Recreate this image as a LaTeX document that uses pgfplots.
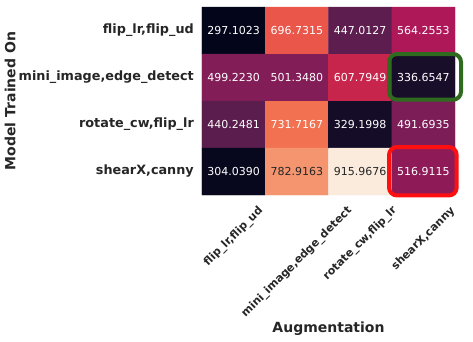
\documentclass[border=0pt]{standalone}
\usepackage{fontspec}
\setmainfont{DejaVu Sans}
\usepackage{graphicx}
\usepackage{pgfplots}
\usepackage{pgfplotstable}
\pgfplotsset{compat=1.18}

\definecolor{boxgreen}{RGB}{46,107,31}
\definecolor{boxred}{RGB}{255,16,16}
\definecolor{annotdark}{RGB}{38,38,38}

% x = augmentation (column), y = model trained on (row)
\pgfplotstableread{
x y v
0 0 297.1023
1 0 696.7315
2 0 447.0127
3 0 564.2553
0 1 499.2230
1 1 501.3480
2 1 607.7949
3 1 336.6547
0 2 440.2481
1 2 731.7167
2 2 329.1998
3 2 491.6935
0 3 304.0390
1 3 782.9163
2 3 915.9676
3 3 516.9115
}\heat

\begin{document}
\begin{tikzpicture}
\useasboundingbox (-202pt,-147pt) rectangle (271pt,195pt);
\begin{axis}[
  scale only axis,
  width=253pt, height=188pt,
  xmin=-0.5, xmax=3.5, ymin=-0.5, ymax=3.5,
  y dir=reverse,
  axis line style={draw=none},
  major tick length=0pt,
  clip=false,
  xtick={0,1,2,3}, ytick={0,1,2,3},
  xticklabels={{\rotatebox{45}{flip\_lr,flip\_ud}},
    {\rotatebox{45}{mini\_image,edge\_detect}},
    {\rotatebox{45}{rotate\_cw,flip\_lr}},
    {\rotatebox{45}{shearX,canny}}},
  yticklabels={{flip\_lr,flip\_ud},{mini\_image,edge\_detect},
    {rotate\_cw,flip\_lr},{shearX,canny}},
  xticklabel style={anchor=north, inner sep=0pt, yshift=-10pt,
    font=\fontsize{11}{13}\selectfont\bfseries, text=annotdark},
  yticklabel style={anchor=east, inner sep=0pt, xshift=-8pt,
    font=\fontsize{12.8}{15}\selectfont\bfseries, text=annotdark},
  xlabel={Augmentation},
  ylabel={Model Trained On},
  xlabel style={at={(axis description cs:0.5,-0.713)}, anchor=center,
    font=\fontsize{14}{17}\selectfont\bfseries, text=annotdark},
  ylabel style={at={(axis description cs:-0.758,0.5)}, anchor=center,
    font=\fontsize{14}{17}\selectfont\bfseries, text=annotdark},
  colormap={rocket}{rgb255(0)=(3,5,26) rgb255(1)=(53,25,62)
    rgb255(2)=(112,31,87) rgb255(3)=(173,23,89) rgb255(4)=(225,51,66)
    rgb255(5)=(243,118,81) rgb255(6)=(246,180,143) rgb255(7)=(250,235,221)},
  point meta min=297.1023, point meta max=915.9676,
  annot/.style={draw=none, mark=none, point meta=explicit symbolic,
    nodes near coords,
    every node near coord/.append style={anchor=center, inner sep=0pt,
      font=\fontsize{11}{13}\selectfont}},
]
\addplot[matrix plot*, mesh/cols=4, point meta=explicit]
  table[x=x, y=y, meta=v] {\heat};
% cell annotations: white on dark cells, dark grey on light cells
\addplot[annot, restrict expr to domain={\thisrow{v}}{0:750},
  every node near coord/.append style={text=white}]
  table[x=x, y=y, meta=v] {\heat};
\addplot[annot, restrict expr to domain={\thisrow{v}}{750:2000},
  every node near coord/.append style={text=annotdark}]
  table[x=x, y=y, meta=v] {\heat};
\draw[boxgreen, line width=4pt, rounded corners=8pt]
  (axis cs:2.457,0.5) rectangle (axis cs:3.595,1.472);
\draw[boxred, line width=4pt, rounded corners=8pt]
  (axis cs:2.457,2.479) rectangle (axis cs:3.527,3.51);
\end{axis}
\end{tikzpicture}
\end{document}
